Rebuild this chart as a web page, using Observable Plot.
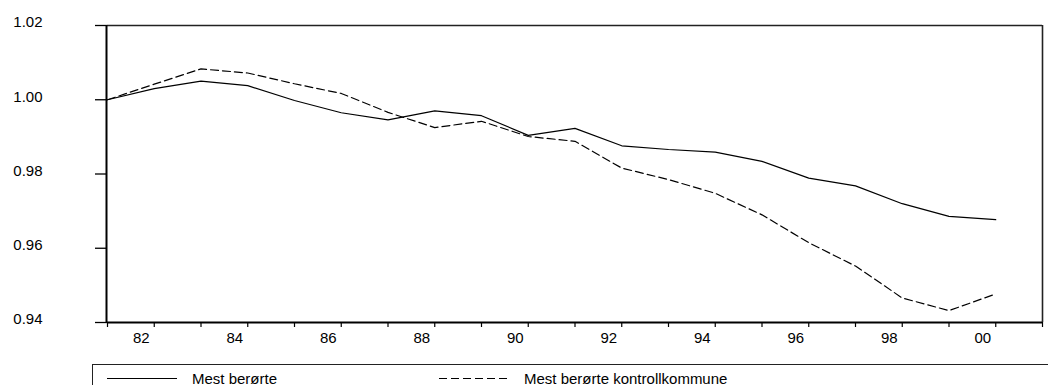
<!DOCTYPE html>
<html>
<head>
<meta charset="utf-8">
<script src="https://cdn.jsdelivr.net/npm/d3@7"></script>
<script src="https://cdn.jsdelivr.net/npm/@observablehq/plot@0.6"></script>
<style>
  html, body { margin: 0; padding: 0; background: #fff; overflow: hidden; }
  body { font-family: "Liberation Sans", Arial, sans-serif; }
  #chart svg { display: block; }
  .legend {
    position: relative;
    margin-left: 92px;
    width: 1000px;
    height: 40px;
    border: 1px solid #222;
    box-sizing: border-box;
    font-size: 15px;
    color: #000;
  }
  .legend .item { position: absolute; top: 6px; display: flex; align-items: center; }
  .legend .item span { margin-left: 15px; line-height: 15px; }
</style>
</head>
<body>
<div id="chart"></div>
<div class="legend" id="legend"></div>
<script>
// Annual index values, 1981 = 1.00
const years = [1981, 1982, 1983, 1984, 1985, 1986, 1987, 1988, 1989, 1990,
               1991, 1992, 1993, 1994, 1995, 1996, 1997, 1998, 1999, 2000];
const mestBerorte = [1.000, 1.003, 1.005, 1.0038, 0.9998, 0.9965, 0.9946, 0.9970, 0.9957, 0.9904,
                     0.9923, 0.9876, 0.9866, 0.9859, 0.9834, 0.9789, 0.9768, 0.9720, 0.9686, 0.9677];
const kontrollkommune = [1.000, 1.0042, 1.0083, 1.0072, 1.0043, 1.0017, 0.9966, 0.9925, 0.9942, 0.9901,
                         0.9888, 0.9816, 0.9785, 0.9748, 0.9690, 0.9615, 0.9552, 0.9466, 0.9432, 0.9477];
const seriesNames = ["Mest berørte", "Mest berørte kontrollkommune"];
const yTicks = [0.94, 0.96, 0.98, 1.00, 1.02];
const yearTicks = [1981, 1982, 1983, 1984, 1985, 1986, 1987, 1988, 1989, 1990, 1991,
                   1992, 1993, 1994, 1995, 1996, 1997, 1998, 1999, 2000, 2001];
const yearLabels = [1982, 1984, 1986, 1988, 1990, 1992, 1994, 1996, 1998, 2000];
const xBounds = [1981, 2001];
const yBounds = [0.94, 1.02];

const rows = [
  ...years.map((year, i) => ({year, value: mestBerorte[i], series: seriesNames[0]})),
  ...years.map((year, i) => ({year, value: kontrollkommune[i], series: seriesNames[1]}))
];

const dash = {[seriesNames[0]]: null, [seriesNames[1]]: "8,4"};

const chart = Plot.plot({
  width: 1048,
  height: 364,
  marginLeft: 107,
  marginRight: 6,
  marginTop: 25,
  marginBottom: 42,
  style: {fontFamily: '"Liberation Sans", Arial, sans-serif', fontSize: "15px", color: "#000", background: "#fff"},
  x: {domain: xBounds},
  y: {domain: yBounds},
  marks: [
    // plot box: thin top/right, heavier left/bottom
    Plot.ruleY([yBounds[1]], {stroke: "#222", strokeWidth: 1.6}),
    Plot.ruleX([xBounds[1]], {stroke: "#222", strokeWidth: 1.6}),
    Plot.ruleX([xBounds[0]], {stroke: "#000", strokeWidth: 2, dx: -1}),
    Plot.ruleY([yBounds[0]], {stroke: "#000", strokeWidth: 2}),
    // y ticks and labels
    Plot.axisY({ticks: yTicks, tickSize: 12, tickFormat: () => "", label: null,
                stroke: "#000", strokeWidth: 1.3}),
    Plot.axisY({ticks: yTicks, tickSize: 0, tickPadding: 65, tickFormat: d => d.toFixed(2),
                label: null, dy: -3}),
    // x ticks every year, labels every second year
    Plot.axisX({ticks: yearTicks, tickSize: 5, tickFormat: () => "", label: null,
                stroke: "#000", strokeWidth: 1.2}),
    Plot.axisX({ticks: yearLabels, tickSize: 0, tickPadding: 10, dx: -13, label: null,
                tickFormat: d => String(d % 100).padStart(2, "0")}),
    ...seriesNames.map(name =>
      Plot.line(rows.filter(d => d.series === name), {
        x: "year", y: "value", stroke: "#000", strokeWidth: 1.2,
        strokeDasharray: dash[name]
      })
    )
  ]
});
document.getElementById("chart").append(chart);

// Legend below the chart
const legend = document.getElementById("legend");
const swatchX = [14, 346];
seriesNames.forEach((name, i) => {
  const item = document.createElement("div");
  item.className = "item";
  item.style.left = swatchX[i] + "px";
  const svg = d3.create("svg").attr("width", 70).attr("height", 15);
  svg.append("line").attr("x1", 0).attr("x2", 70).attr("y1", 7.5).attr("y2", 7.5)
    .attr("stroke", "#000").attr("stroke-width", 1.2)
    .attr("stroke-dasharray", dash[name]);
  item.append(svg.node());
  const label = document.createElement("span");
  label.textContent = name;
  item.append(label);
  legend.append(item);
});
</script>
</body>
</html>
